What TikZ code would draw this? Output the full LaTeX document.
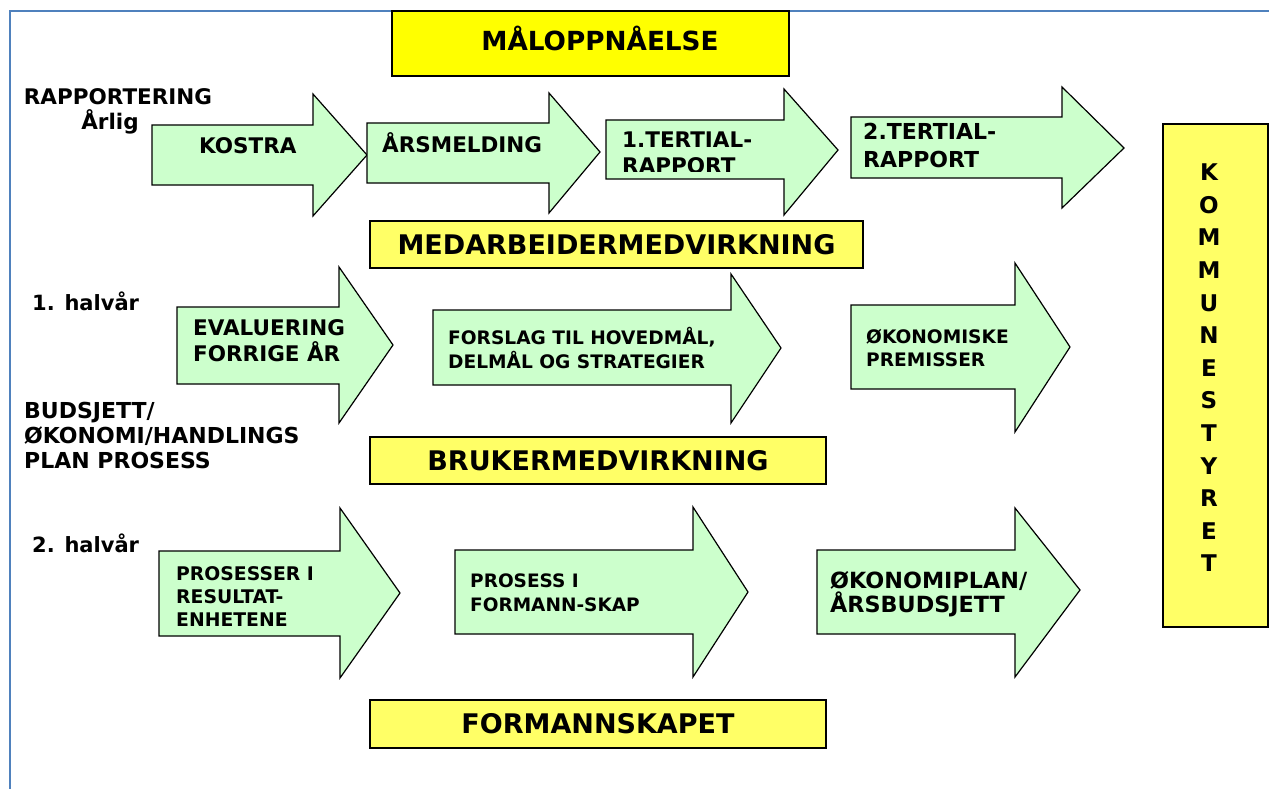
\documentclass[tikz,border=0pt]{standalone}
\usepackage{fontspec}
\setmainfont{DejaVu Sans}
\usetikzlibrary{scopes}
\definecolor{arrowGreen}{RGB}{204,255,204}
\definecolor{titleYellow}{RGB}{255,255,0}
\definecolor{boxYellow}{RGB}{255,255,102}
\definecolor{frameBlue}{RGB}{79,129,189}

\begin{document}
\begin{tikzpicture}[x=1pt, y=-1pt]
    \useasboundingbox (0,0) rectangle (1269,789);
    \draw[frameBlue, line width=1.5pt] (10,789) -- (10,11) -- (1269,11);
    {[every node/.style={draw, line width=1.3pt, inner sep=0pt, font=\fontsize{27}{30}\selectfont\bfseries}]
    \node[fill=titleYellow, minimum width=397, minimum height=65] (title) at (590.5,43.5) {};
    \node[fill=boxYellow, minimum width=493, minimum height=47] (MED) at (616.5,244.5) {MEDARBEIDERMEDVIRKNING};
    \node[fill=boxYellow, minimum width=456, minimum height=47] (BRUK) at (598,460.5) {BRUKERMEDVIRKNING};
    \node[fill=boxYellow, minimum width=456, minimum height=48] (FORM) at (598,724) {FORMANNSKAPET};
    \node[fill=boxYellow, line width=2pt, minimum width=105, minimum height=503] (KOMM) at (1215,375.5) {};
    }
    % green arrows: left, body top, body bottom, head x, head top, head bottom, tip x, tip y
    \foreach \xl/\yt/\yb/\xh/\yht/\yhb/\xt/\ym in {
        152/125/185/313/94/216/367/155, 367/123/183/549/93/213/600/152,
        606/120/179/784/89/215/838/150, 851/117/178/1062/87/208/1124/148,
        177/307/384/339/267/423/393/345, 433/310/385/731/274/423/781/348,
        851/305/389/1015/263/432/1070/347,
        159/551/636/340/508/678/400/593, 455/550/634/693/507/677/748/592,
        817/550/634/1015/508/677/1080/590}
      \filldraw[fill=arrowGreen, draw=black, line width=1.2pt]
        (\xl,\yt) -- (\xh,\yt) -- (\xh,\yht) -- (\xt,\ym) -- (\xh,\yhb) -- (\xh,\yb) -- (\xl,\yb) -- cycle;
    \node[font=\fontsize{26.3}{30}\selectfont\bfseries, inner sep=0pt] (title-text) at (600,38) {MÅLOPPNÅELSE};
    \node[font=\fontsize{23}{32.6}\selectfont\bfseries, align=center, inner sep=0pt] (KOMM-text) at (1209,368)
      {K\\O\\M\\M\\U\\N\\E\\S\\T\\Y\\R\\E\\T};
    % side labels
    {[every node/.style={anchor=west, align=left, inner sep=0pt}]
    \node[anchor=center, align=center, font=\fontsize{21.5}{25}\selectfont\bfseries] (rapp) at (118,111.5) {RAPPORTERING\\Årlig\hspace*{16pt}};
    \node[font=\fontsize{21}{25}\selectfont\bfseries] (half1) at (32,301.5) {1. halvår};
    \node[font=\fontsize{22}{25}\selectfont\bfseries] (budsj) at (24,435) {BUDSJETT/\\ØKONOMI/HANDLINGS\\PLAN PROSESS};
    \node[font=\fontsize{21}{25}\selectfont\bfseries] (half2) at (32,543) {2. halvår};
    }
    % arrow texts
    {[every node/.style={anchor=west, align=left, inner sep=0pt}]
    \node[font=\fontsize{21.5}{26}\selectfont\bfseries] (kostra) at (199,146) {KOSTRA};
    \node[font=\fontsize{21.5}{26}\selectfont\bfseries] (aarsm) at (382,143) {ÅRSMELDING};
    \begin{scope}
      \clip (606,100) rectangle (784,171);
      \node[font=\fontsize{21.5}{26}\selectfont\bfseries] (tert1) at (622,153) {1.TERTIAL-\\RAPPORT};
    \end{scope}
    \node[font=\fontsize{22}{28}\selectfont\bfseries] (tert2) at (863,145) {2.TERTIAL-\\RAPPORT};
    \node[font=\fontsize{21.5}{26}\selectfont\bfseries] (eval) at (193,341) {EVALUERING\\FORRIGE ÅR};
    \node[font=\fontsize{18.6}{24}\selectfont\bfseries] (forsl) at (448,348) {FORSLAG TIL HOVEDMÅL,\\DELMÅL OG STRATEGIER};
    \node[font=\fontsize{18.6}{23}\selectfont\bfseries] (okprem) at (866,348.5) {ØKONOMISKE\\PREMISSER};
    \node[font=\fontsize{18.8}{23}\selectfont\bfseries] (prosr) at (176,597) {PROSESSER I\\RESULTAT-\\ENHETENE};
    \node[font=\fontsize{18.5}{24}\selectfont\bfseries] (prosf) at (470,593) {PROSESS I\\FORMANN-SKAP};
    \node[font=\fontsize{22.3}{24}\selectfont\bfseries] (okplan) at (830,594) {ØKONOMIPLAN/\\ÅRSBUDSJETT};
    }
\end{tikzpicture}
\end{document}
